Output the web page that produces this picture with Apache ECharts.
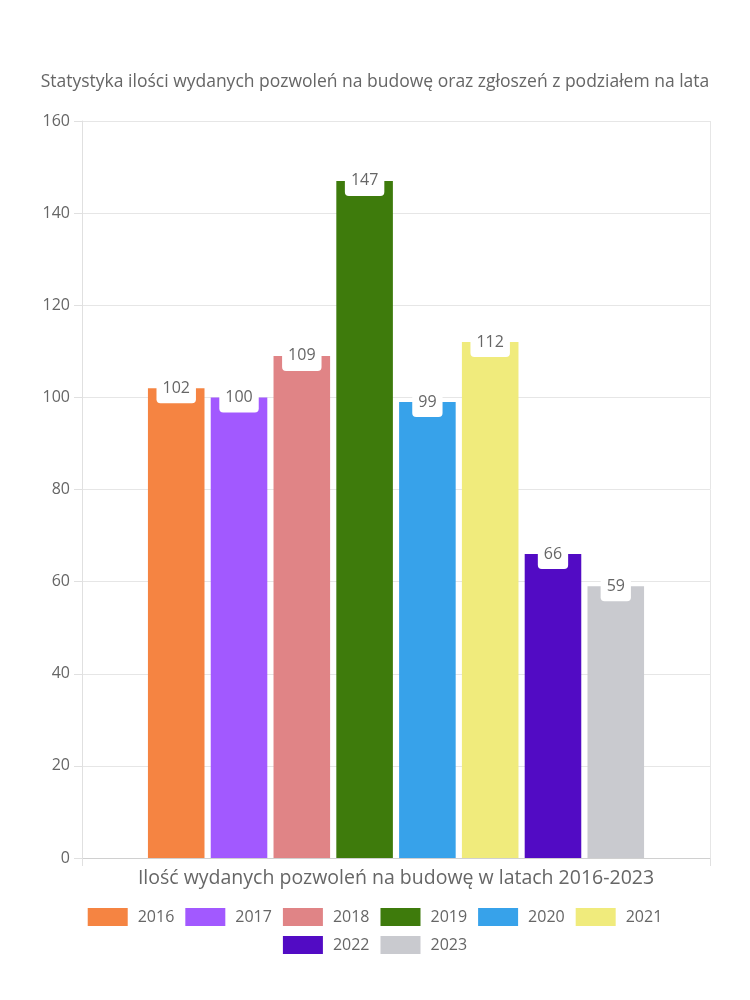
<!DOCTYPE html>
<html>
<head>
<meta charset="utf-8">
<script src="https://cdn.jsdelivr.net/npm/echarts@6/dist/echarts.min.js"></script>
<style>
html,body{margin:0;padding:0;background:#fff;}
#chart{width:750px;height:1000px;}
</style>
</head>
<body>
<div id="chart"></div>
<script>
var titleText = 'Statystyka ilości wydanych pozwoleń na budowę oraz zgłoszeń z podziałem na lata';
var categories = ['Ilość wydanych pozwoleń na budowę w latach 2016-2023'];
var years = ['2016', '2017', '2018', '2019', '2020', '2021', '2022', '2023'];
var values = [102, 100, 109, 147, 99, 112, 66, 59];
var colors = ['#F58442', '#A259FF', '#E08486', '#3E7B0C', '#37A2EA', '#F0EB7C', '#520BC4', '#C9CACF'];
var yTicks = [0, 20, 40, 60, 80, 100, 120, 140, 160];

var FONT = '"Open Sans"';
var TXT = '#666666';

var series = years.map(function (y, i) {
  return {
    name: y,
    type: 'bar',
    data: [values[i]],
    itemStyle: { color: colors[i] },
    barGap: '11%',
    barCategoryGap: '21%',
    label: {
      show: true,
      position: ['50%', 0],
      align: 'center',
      verticalAlign: 'middle',
      backgroundColor: '#ffffff',
      borderRadius: 4,
      padding: [7, 6],
      color: TXT,
      fontFamily: FONT,
      fontSize: 16
    }
  };
});

function legendCfg(data, top) {
  return {
    data: data,
    left: 'center',
    top: top,
    icon: 'rect',
    itemWidth: 40,
    itemHeight: 18,
    itemGap: 11,
    textStyle: { color: TXT, fontSize: 16, fontFamily: FONT, padding: [0, 0, 0, 5] }
  };
}

var chart = echarts.init(document.getElementById('chart'), null, { renderer: 'canvas' });
chart.setOption({
  animation: false,
  backgroundColor: '#ffffff',
  color: colors,
  textStyle: { fontFamily: FONT },
  title: {
    text: titleText,
    left: 'center',
    top: 68,
    textStyle: { color: TXT, fontSize: 17.5, fontWeight: 'normal', fontFamily: FONT }
  },
  legend: [legendCfg(years.slice(0, 6), 903), legendCfg(years.slice(6), 931)],
  grid: { left: 82, right: 40, top: 121, bottom: 142, containLabel: false },
  xAxis: {
    type: 'category',
    data: categories,
    axisLine: { show: true, lineStyle: { color: '#d0d0d0' } },
    axisTick: { show: true, length: 8, lineStyle: { color: '#e0e0e0' } },
    splitLine: { show: true, lineStyle: { color: '#e6e6e6' } },
    axisLabel: { color: TXT, fontSize: 19.5, fontFamily: FONT, margin: 10 }
  },
  yAxis: {
    type: 'value',
    min: yTicks[0],
    max: yTicks[yTicks.length - 1],
    interval: 20,
    axisLine: { show: true, lineStyle: { color: '#e0e0e0' } },
    axisTick: { show: true, length: 8, lineStyle: { color: '#e0e0e0' } },
    splitLine: { show: true, lineStyle: { color: '#e6e6e6' } },
    axisLabel: { color: TXT, fontSize: 16, fontFamily: FONT, margin: 12 }
  },
  series: series
});
</script>
</body>
</html>
